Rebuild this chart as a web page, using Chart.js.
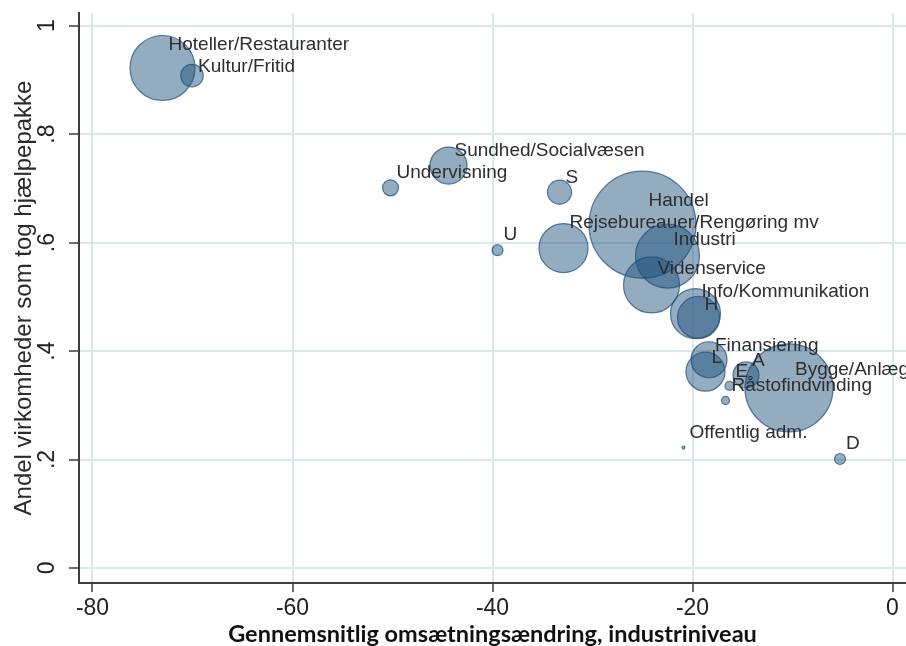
<!DOCTYPE html>
<html>
<head>
<meta charset="utf-8">
<title>Omsætningsændring og hjælpepakker</title>
<script src="https://cdn.jsdelivr.net/npm/chart.js@4.4.1/dist/chart.umd.min.js"></script>
<style>
  html, body { margin: 0; padding: 0; background: #fff; }
  canvas { display: block; }
</style>
</head>
<body>
<canvas id="chart" width="906" height="646"></canvas>
<script>
// data
const sectors = [
  "Hoteller/Restauranter", "Kultur/Fritid", "Sundhed/Socialvæsen", "Undervisning",
  "S", "U", "Rejsebureauer/Rengøring mv", "Handel", "Industri", "Videnservice",
  "Info/Kommunikation", "H", "Finansiering", "L", "A", "E", "Bygge/Anlæg",
  "Råstofindvinding", "Offentlig adm.", "D",
];
const turnoverChange = [
  -73.0, -70.05, -44.4, -50.2, -33.3, -39.5, -32.9, -25.0, -22.5, -24.1,
  -19.7, -19.4, -18.35, -18.7, -14.65, -16.3, -10.35, -16.7, -20.9, -5.25,
];
const shareWithAid = [
  0.922, 0.908, 0.742, 0.701, 0.693, 0.586, 0.590, 0.633, 0.575, 0.522,
  0.469, 0.462, 0.384, 0.362, 0.356, 0.336, 0.332, 0.309, 0.222, 0.201,
];
// bubble radius (px), proportional to industry weight
const bubbleSize = [
  32.5, 11.3, 18.5, 8, 12, 5.5, 24.5, 53.5, 32, 28,
  25, 21, 18, 19.5, 13, 4.5, 44, 4, 1.5, 5.5,
];
const xTicks = [-80, -60, -40, -20, 0];
const yTicks = [0, 0.2, 0.4, 0.6, 0.8, 1];
const yTickLabels = ["0", ".2", ".4", ".6", ".8", "1"];

// vertical nudge of each marker label (px)
const labelDy = [
  -23.5, -9, -15, -15, -14.5, -15.5, -25, -23.5, -16.5, -16.5,
  -22, -12.5, -13.5, -13.5, -14.5, -14.5, -18, -14.5, -14.5, -15,
];

const axisColor = "#3d3d3d";
const gridColor = "#dbe8eb";
const sans = '"Liberation Sans", Arial, sans-serif';

const sectorLabels = {
  id: "sectorLabels",
  afterDatasetsDraw(chart) {
    const ctx = chart.ctx;
    const points = chart.getDatasetMeta(0).data;
    ctx.save();
    ctx.font = "19px " + sans;
    ctx.fillStyle = "#2e2e2e";
    ctx.textAlign = "left";
    ctx.textBaseline = "middle";
    points.forEach((pt, i) => {
      ctx.fillText(sectors[i], pt.x + 6, pt.y + labelDy[i]);
    });
    ctx.restore();
  },
};

const bubbles = sectors.map((name, i) => {
  return { x: turnoverChange[i], y: shareWithAid[i], r: bubbleSize[i] };
});

new Chart(document.getElementById("chart"), {
  type: "bubble",
  data: {
    datasets: [
      {
        label: "Brancher",
        data: bubbles,
        backgroundColor: "rgba(28, 78, 122, 0.47)",
        borderColor: "rgba(28, 78, 122, 0.72)",
        borderWidth: 1.2,
        clip: false,
      },
    ],
  },
  options: {
    responsive: false,
    animation: false,
    layout: { autoPadding: false, padding: { top: 13, right: 0, bottom: 0, left: 0 } },
    plugins: {
      legend: { display: false },
      tooltip: { enabled: false },
    },
    scales: {
      x: {
        type: "linear",
        min: -81.35,
        max: 1.35,
        afterBuildTicks: (scale) => {
          scale.ticks = xTicks.map((v) => ({ value: v }));
        },
        afterFit: (scale) => {
          scale.height = 63;
          scale.paddingLeft = 0;
          scale.paddingRight = 0;
        },
        grid: { color: gridColor, lineWidth: 2, tickLength: 9, tickColor: axisColor, tickWidth: 1.5 },
        border: { color: axisColor, width: 2 },
        ticks: {
          font: { family: '"Liberation Sans Narrow", "Liberation Sans", Arial, sans-serif', size: 23 },
          color: "#222",
          padding: 3,
          maxRotation: 0,
          callback: (v) => String(v),
        },
        title: {
          display: true,
          text: "Gennemsnitlig omsætningsændring, industriniveau",
          font: { family: "Lato, sans-serif", weight: "bold", size: 23.5, lineHeight: 1 },
          color: "#111",
          padding: { top: 0, bottom: 0 },
        },
      },
      y: {
        type: "linear",
        min: -0.0277,
        max: 1.0234,
        afterBuildTicks: (scale) => {
          scale.ticks = yTicks.map((v) => ({ value: v }));
        },
        afterFit: (scale) => {
          scale.width = 79;
          scale.paddingTop = 0;
          scale.paddingBottom = 0;
        },
        grid: { color: gridColor, lineWidth: 2, tickLength: 10, tickColor: axisColor, tickWidth: 1.5 },
        border: { color: axisColor, width: 2 },
        ticks: {
          font: { family: sans, size: 23 },
          color: "#222",
          padding: 12,
          minRotation: 90,
          maxRotation: 90,
          crossAlign: "center",
          callback: (v, i) => yTickLabels[i],
        },
        title: {
          display: true,
          text: "Andel virkomheder som tog hjælpepakke",
          font: { family: sans, size: 24, lineHeight: 1.2 },
          color: "#2b2b2b",
          padding: { top: 10, bottom: 0 },
        },
      },
    },
  },
  plugins: [sectorLabels],
});
</script>
</body>
</html>
